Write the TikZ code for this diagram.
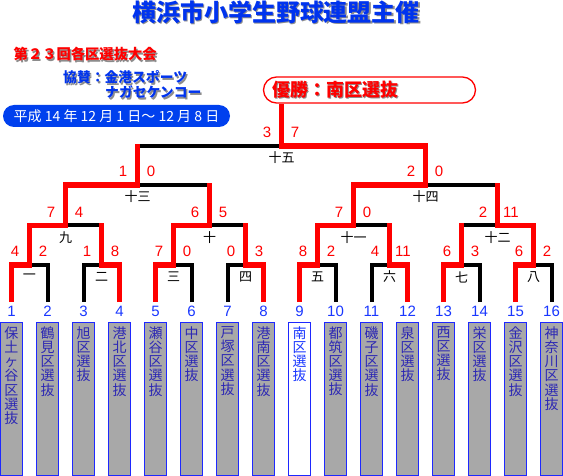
\documentclass[tikz,border=0pt]{standalone}
\usepackage{fontspec}
\setmainfont{Liberation Sans}
\newfontfamily\jp{Noto Sans CJK JP}
\usetikzlibrary{calc}
\definecolor{ttlblue}{RGB}{0,51,238}
\definecolor{numblue}{RGB}{25,55,255}
\definecolor{boxblue}{RGB}{30,40,255}
\definecolor{boxtext}{RGB}{45,40,180}
\definecolor{boxgray}{RGB}{168,168,168}
\definecolor{datebg}{RGB}{0,64,238}
\definecolor{shadowgray}{RGB}{140,140,140}
\newcommand{\shtext}[1]{\leavevmode\rlap{\kern1.5pt\raisebox{-1.5pt}{\color{shadowgray}#1}}#1}
\begin{document}
\begin{tikzpicture}[x=1pt,y=-1pt,
  win/.style={draw=red, line width=5.5pt, line join=miter},
  lose/.style={draw=black, line width=4pt, line join=miter},
  score/.style={text=red, font=\fontsize{15}{15}\selectfont, inner sep=0},
  rnd/.style={text=black, font=\jp\fontsize{13}{13}\selectfont, inner sep=0},
  num/.style={text=numblue, font=\fontsize{15}{15}\selectfont, inner sep=0},
  tbox/.style={draw=boxblue, line width=1.3pt, fill=boxgray, minimum width=21.5pt, minimum height=153pt, anchor=north, inner sep=0},
  tname/.style={text=boxtext, font=\jp\fontsize{14}{14.2}\selectfont, align=center, anchor=north, inner sep=0}
]
\useasboundingbox (0,0) rectangle (563,476);

% header
\node[font=\jp\bfseries\fontsize{24}{24}\selectfont, text=ttlblue, inner sep=0] (title) at (276,13) {\shtext{横浜市小学生野球連盟主催}};
\node[anchor=west, font=\jp\bfseries\fontsize{14.3}{14.3}\selectfont, text=red, inner sep=0] (sub) at (13.5,55) {\shtext{第２３回各区選抜大会}};
\node[anchor=west, font=\jp\bfseries\fontsize{13.8}{13.8}\selectfont, text=ttlblue, inner sep=0] (sp1) at (63,78) {\shtext{協賛：金港スポーツ}};
\node[anchor=west, font=\jp\bfseries\fontsize{13.8}{13.8}\selectfont, text=ttlblue, inner sep=0] (sp2) at (105,93) {\shtext{ナガセケンコー}};
\node[fill=datebg, rounded corners=11pt, minimum width=227pt, minimum height=22pt, text=white, font=\jp\fontsize{14}{14}\selectfont, inner sep=0] (date) at (116.5,116) {平成 14 年 12 月 1 日～ 12 月 8 日};

% champion box
\node[draw=red, line width=1.3pt, fill=white, rounded corners=13pt, minimum width=212pt, minimum height=26pt, inner sep=0] (champ) at (369.5,90) {};
\node[anchor=west, text=red, font=\jp\bfseries\fontsize{18}{18}\selectfont, inner sep=0] (champtext) at (272,90) {\shtext{優勝：南区選抜}};

% leaves
\foreach \i in {1,...,16} {
  \coordinate (t\i) at ({11.5+36*(\i-1)},302);
}
% match points
\coordinate (m1) at (29.5,265);
\coordinate (m2) at (101.5,265);
\coordinate (m3) at (173.5,265);
\coordinate (m4) at (245.5,265);
\coordinate (m5) at (317.5,265);
\coordinate (m6) at (389.5,265);
\coordinate (m7) at (461.5,265);
\coordinate (m8) at (533.5,265);
\coordinate (m9) at (65.5,225.5);
\coordinate (m10) at (209.5,225.5);
\coordinate (m11) at (353.5,225.5);
\coordinate (m12) at (497.5,225.5);
\coordinate (m13) at (137.5,185);
\coordinate (m14) at (425.5,185);
\coordinate (m15) at (281.5,146);

% losing branches (black)
\foreach \m/\w/\l/\p in {m1/t1/t2/m9, m2/t4/t3/m9, m3/t5/t6/m10, m4/t8/t7/m10, m5/t9/t10/m11, m6/t12/t11/m11, m7/t13/t14/m12, m8/t15/t16/m12, m9/m1/m2/m13, m10/m3/m4/m13, m11/m5/m6/m14, m12/m8/m7/m14, m13/m9/m10/m15, m14/m11/m12/m15} {
  \draw[lose] (\l) |- (\m);
}
\draw[lose] (m13) |- (m15);
% winning branches (red)
\foreach \m/\w/\l/\p in {m1/t1/t2/m9, m2/t4/t3/m9, m3/t5/t6/m10, m4/t8/t7/m10, m5/t9/t10/m11, m6/t12/t11/m11, m7/t13/t14/m12, m8/t15/t16/m12, m9/m1/m2/m13, m10/m3/m4/m13, m11/m5/m6/m14, m12/m8/m7/m14, m13/m9/m10/m15, m14/m11/m12/m15} {
  \draw[win] (\w) |- (\m) -- ($(\m |- \p)+(0,-2)$);
}
\draw[win] (m14) |- (m15) -- (m15 |- champ.south);

% scores and round labels
\foreach \m/\sa/\sb/\lab in {m1/4/2/一, m2/1/8/二, m3/7/0/三, m4/0/3/四, m5/8/2/五, m6/4/11/六, m7/6/3/七, m8/6/2/八, m9/7/4/九, m10/6/5/十, m11/7/0/十一, m12/2/11/十二, m13/1/0/十三, m14/2/0/十四, m15/3/7/十五} {
  \node[score] (sa-\m) at ($(\m)+(-14.5,-13.5)$) {\sa};
  \node[score] (sb-\m) at ($(\m)+(13.5,-13.5)$) {\sb};
  \node[rnd] (r-\m) at ($(\m)+(0,12)$) {\lab};
}

% numbers and team boxes
\foreach \i/\nm in {1/{保\\土\\ヶ\\谷\\区\\選\\抜}, 2/{鶴\\見\\区\\選\\抜}, 3/{旭\\区\\選\\抜}, 4/{港\\北\\区\\選\\抜}, 5/{瀬\\谷\\区\\選\\抜}, 6/{中\\区\\選\\抜}, 7/{戸\\塚\\区\\選\\抜}, 8/{港\\南\\区\\選\\抜}, 10/{都\\筑\\区\\選\\抜}, 11/{磯\\子\\区\\選\\抜}, 12/{泉\\区\\選\\抜}, 13/{西\\区\\選\\抜}, 14/{栄\\区\\選\\抜}, 15/{金\\沢\\区\\選\\抜}, 16/{神\\奈\\川\\区\\選\\抜}} {
  \node[num] (n\i) at ({11.5+36*(\i-1)},311) {\i};
  \node[tbox] (b\i) at ({11.5+36*(\i-1)},322) {};
  \node[tname] (tx\i) at ({11.5+36*(\i-1)},326.3) {\nm};
}
\node[num] (n9) at (299.5,311) {9};
\node[tbox, fill=white] (b9) at (299.5,322) {};
\node[tname, text=numblue] (tx9) at (299.5,326.3) {南\\区\\選\\抜};
\end{tikzpicture}
\end{document}
